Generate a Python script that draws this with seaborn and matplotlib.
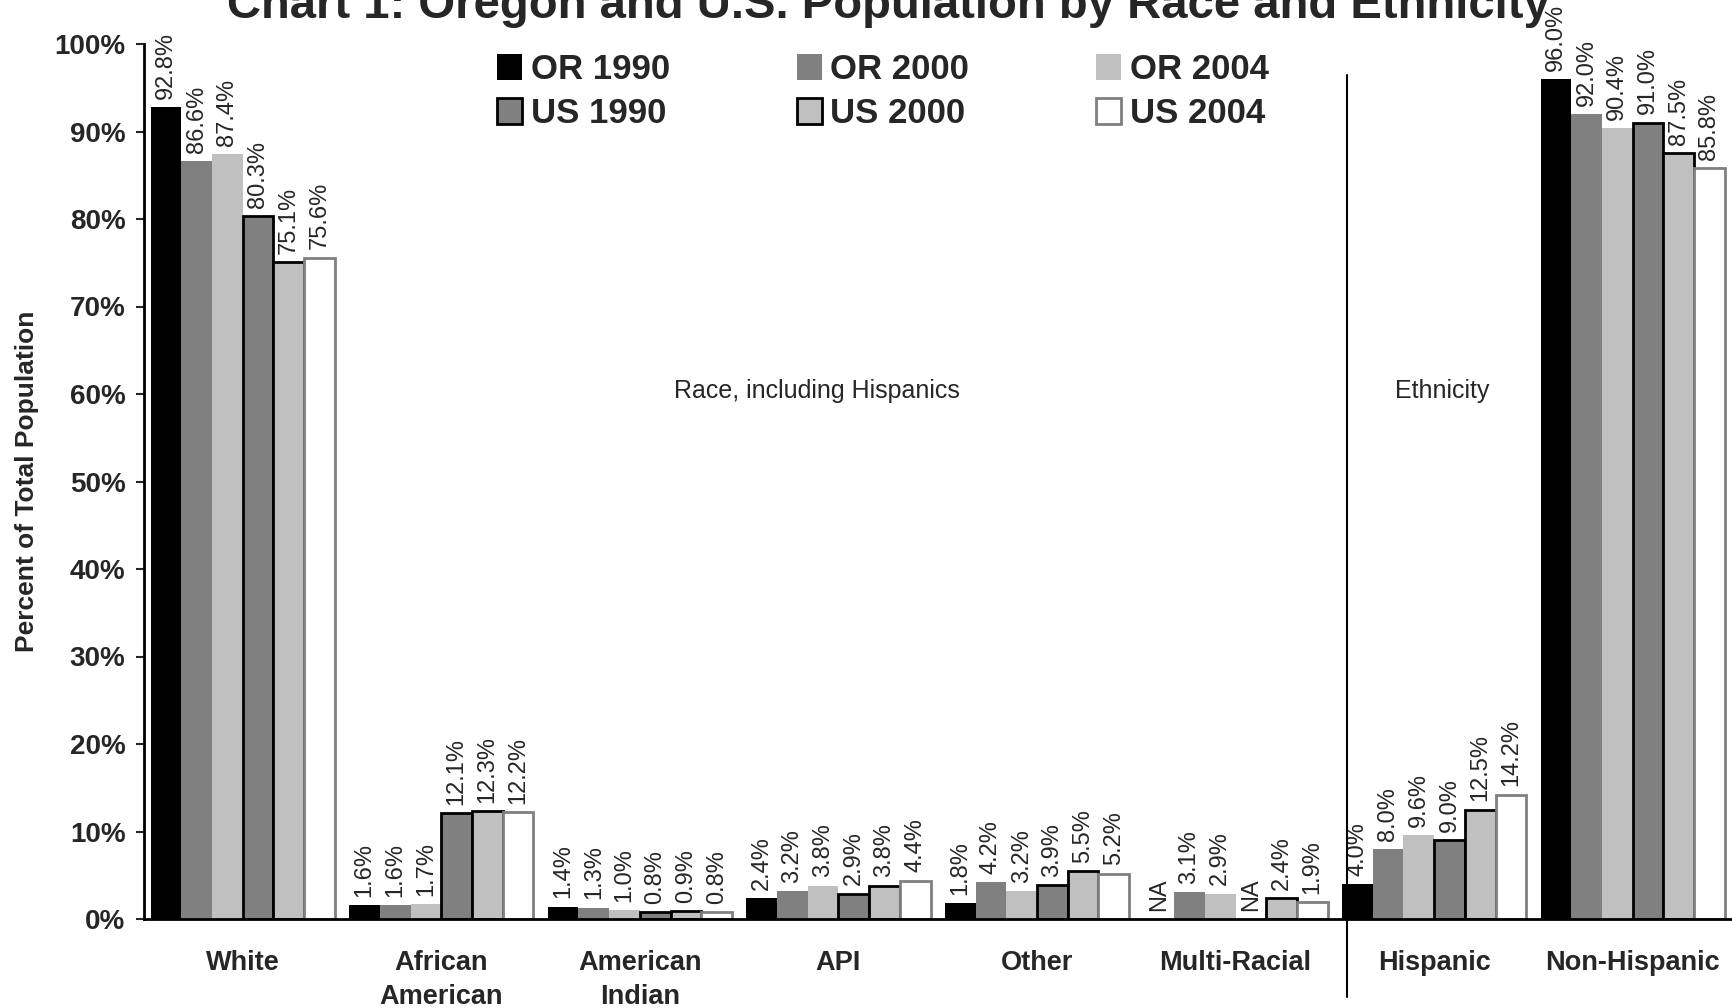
import numpy as np
import pandas as pd
import matplotlib
matplotlib.use("Agg")
import matplotlib.pyplot as plt
from matplotlib.patches import Patch
from matplotlib.ticker import FuncFormatter
import seaborn as sns

# ---- data -------------------------------------------------------------
categories = ["White", "African\nAmerican", "American\nIndian", "API",
              "Other", "Multi-Racial", "Hispanic", "Non-Hispanic"]
series = ["OR 1990", "OR 2000", "OR 2004", "US 1990", "US 2000", "US 2004"]

or_1990 = [92.8, 1.6, 1.4, 2.4, 1.8, np.nan, 4.0, 96.0]
or_2000 = [86.6, 1.6, 1.3, 3.2, 4.2, 3.1, 8.0, 92.0]
or_2004 = [87.4, 1.7, 1.0, 3.8, 3.2, 2.9, 9.6, 90.4]
us_1990 = [80.3, 12.1, 0.8, 2.9, 3.9, np.nan, 9.0, 91.0]
us_2000 = [75.1, 12.3, 0.9, 3.8, 5.5, 2.4, 12.5, 87.5]
us_2004 = [75.6, 12.2, 0.8, 4.4, 5.2, 1.9, 14.2, 85.8]

y_ticks = list(range(0, 101, 10))

# ---- styling ----------------------------------------------------------
face_colors = ["#000000", "#808080", "#c0c0c0", "#808080", "#c0c0c0", "#ffffff"]
edge_colors = [None, None, None, "#000000", "#000000", "#808080"]

sns.set_style("ticks")
plt.rcParams["font.family"] = ["Liberation Sans", "DejaVu Sans"]

values = [or_1990, or_2000, or_2004, us_1990, us_2000, us_2004]
df = pd.DataFrame({
    "category": np.repeat([categories], len(series), axis=0).ravel(),
    "series": np.repeat(series, len(categories)),
    "pct": np.concatenate(values),
})

W, H = 1732, 1008
fig = plt.figure(figsize=(W / 100, H / 100), dpi=100)
ax = fig.add_axes([143.5 / W, 89 / H, (W - 143.5) / W, 875 / H])

sns.barplot(data=df, x="category", y="pct", hue="series",
            order=categories, hue_order=series,
            palette=face_colors, saturation=1, width=0.928,
            errorbar=None, legend=False, ax=ax, zorder=2)

# per-series outlines
for cont, ec in zip(ax.containers, edge_colors):
    for bar in cont:
        if ec is None:
            bar.set_linewidth(0)
        else:
            bar.set_edgecolor(ec)
            bar.set_linewidth(2.0)

# value labels (rotated), NA where the series has no figure
label_font = dict(fontsize=17)
for j, cont in enumerate(ax.containers):
    offset = None
    for bar in cont:
        h = bar.get_height()
        cx = bar.get_x() + bar.get_width() / 2
        if np.isnan(h):
            continue
        offset = cx - int(round(cx))
        ax.annotate(f"{h:.1f}%", xy=(cx, h), xytext=(0, 6),
                    textcoords="offset points", rotation=90,
                    ha="center", va="bottom", **label_font)
    for cat, v in enumerate(values[j]):
        if np.isnan(v):
            ax.annotate("NA", xy=(cat + offset, 0), xytext=(0, 6),
                        textcoords="offset points", rotation=90,
                        ha="center", va="bottom", **label_font)

# axes
ax.set_xlim(-0.5, 7.5)
ax.set_ylim(0, 100)
ax.set_yticks(y_ticks)
ax.yaxis.set_major_formatter(FuncFormatter(lambda v, _: f"{v:.0f}%"))
ax.tick_params(axis="y", length=6, width=1.5, pad=7, labelsize=20)
ax.tick_params(axis="x", length=0, pad=22, labelsize=19.5)
for lab in ax.get_yticklabels() + ax.get_xticklabels():
    lab.set_fontweight("bold")
for lab in ax.get_xticklabels():
    lab.set_linespacing(1.4)
ax.set_xlabel("")
ax.set_ylabel("Percent of Total Population", fontsize=19, fontweight="bold")
ax.yaxis.set_label_coords(-0.066, 0.5)
sns.despine(ax=ax)
for side in ("left", "bottom"):
    ax.spines[side].set_linewidth(2)
    ax.spines[side].set_color("black")

# race / ethnicity divider
ax.plot([5.561, 5.561], [-8.9, 96.5], color="black", lw=1.5,
        clip_on=False, zorder=5)
ax.text(2.894, 60.3, "Race, including Hispanics", ha="center", va="center",
        fontsize=18)
ax.text(6.04, 60.3, "Ethnicity", ha="center", va="center", fontsize=18)

# legend
handles = []
for fc, ec in zip(face_colors, edge_colors):
    if ec is None:
        handles.append(Patch(facecolor=fc, edgecolor=fc, linewidth=0))
    else:
        handles.append(Patch(facecolor=fc, edgecolor=ec, linewidth=2.0))
order = [0, 3, 1, 4, 2, 5]
leg = fig.legend([handles[i] for i in order], [series[i] for i in order],
                 ncol=3, loc="upper left", bbox_to_anchor=(497 / W, 1 - 53 / H),
                 frameon=False, borderpad=0, borderaxespad=0,
                 handlelength=0.72, handleheight=0.8, handletextpad=0.25,
                 columnspacing=3.65, labelspacing=0.32,
                 prop=dict(size=25, weight="bold"))

fig.text(888 / W, 1 - 18 / H,
         "Chart 1: Oregon and U.S. Population by Race and Ethnicity",
         ha="center", va="baseline", fontsize=34, fontweight="bold")

fig.savefig("out.png", dpi=100)
